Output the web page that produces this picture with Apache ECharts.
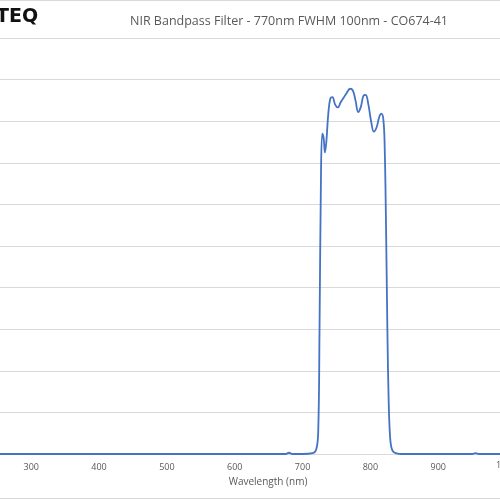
<!DOCTYPE html>
<html>
<head>
<meta charset="utf-8">
<script src="https://cdn.jsdelivr.net/npm/echarts@6/dist/echarts.min.js"></script>
<style>html,body{margin:0;padding:0;background:#fff}#c{width:500px;height:500px}</style>
</head>
<body>
<div id="c"></div>
<script>
// transmission curve
var wavelengths = [200, 300, 400, 500, 600, 650, 675, 680, 685, 700, 715, 720, 723, 725, 727, 729, 731, 733, 735, 738, 741, 744, 748, 752, 756, 760, 765, 770, 774, 778, 782, 786, 790, 793, 797, 801, 805, 809, 813, 816, 819, 821, 823, 825, 827, 829, 831, 834, 838, 845, 860, 900, 950, 955, 960, 1000, 1100];
var transmission = [0, 0, 0, 0, 0, 0, 0, 0.3, 0, 0, 0.2, 1, 5, 30, 65, 77, 76, 72.5, 75, 82, 85.5, 85.8, 84, 83.3, 84.5, 85.5, 86.8, 87.8, 87.4, 85, 82.2, 83.5, 86.2, 86.3, 84, 80, 77.5, 78.5, 81, 81.8, 80.5, 74, 55, 30, 12, 4, 1.5, 0.5, 0.2, 0, 0, 0, 0, 0.2, 0, 0, 0];
var xTicks = [300, 400, 500, 600, 700, 800, 900];

var points = wavelengths.map(function(w, i) { return [w, transmission[i]]; });

var chart = echarts.init(document.getElementById('c'));
chart.setOption({
	backgroundColor: '#fff',
	animation: false,
	title: {
		text: 'NIR Bandpass Filter - 770nm FWHM 100nm - CO674-41',
		left: 284, top: 10, textAlign: 'center',
		textStyle: { color: '#595959', fontSize: 12.5, fontWeight: 'normal', fontFamily: 'Open Sans' }
	},
	graphic: [
		{ type: 'text', left: -4, top: 8, style: { text: 'TEQ', fontSize: 19, fontWeight: 'bold', fill: '#111', fontFamily: 'DejaVu Sans' } },
		{ type: 'text', left: 496, top: 461, style: { text: '1', fontSize: 9, fill: '#595959', fontFamily: 'Open Sans' } },
		{ type: 'line', shape: { x1: 0, y1: 0.5, x2: 500, y2: 0.5 }, style: { stroke: '#d9d9d9' } },
		{ type: 'line', shape: { x1: 0, y1: 498.5, x2: 500, y2: 498.5 }, style: { stroke: '#d9d9d9' } }
	],
	grid: { left: 0, right: 0, top: 38, bottom: 46 },
	xAxis: {
		type: 'value', min: 254, max: 991,
		name: 'Wavelength (nm)', nameLocation: 'middle', nameGap: 22,
		nameTextStyle: { color: '#595959', fontSize: 10, fontFamily: 'Open Sans', padding: [0, 0, 0, 36] },
		axisLine: { lineStyle: { color: '#d9d9d9' } },
		axisTick: { show: false },
		splitLine: { show: false },
		axisLabel: {
			color: '#595959', fontSize: 9, fontFamily: 'Open Sans', margin: 9,
			customValues: xTicks
		}
	},
	yAxis: {
		type: 'value', min: 0, max: 100, interval: 10,
		axisLine: { show: false }, axisTick: { show: false },
		axisLabel: { show: false },
		splitLine: { lineStyle: { color: '#d9d9d9' } }
	},
	series: [{
		type: 'line', data: points, smooth: 0.4, symbol: 'none',
		lineStyle: { color: '#4472c4', width: 1.8 }
	}]
});
</script>
</body>
</html>
